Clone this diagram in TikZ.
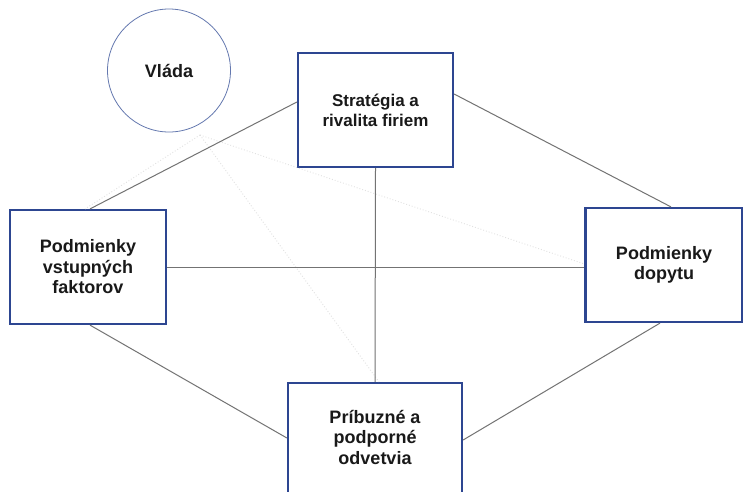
\documentclass[tikz,border=0pt]{standalone}
\usepackage{fontspec}
\setmainfont{Liberation Sans}
\definecolor{boxblue}{RGB}{45,70,145}
\definecolor{circblue}{RGB}{100,120,175}
\definecolor{linegrey}{RGB}{115,115,115}
\definecolor{faint}{RGB}{225,225,225}
\begin{document}
\begin{tikzpicture}[x=1pt,y=-1pt,
  box/.style={draw=boxblue, line width=2.2pt, fill=white, inner sep=0pt},
  txt/.style={font=\fontsize{18}{20.5}\selectfont\bfseries, align=center, text=black!90},
  txtsmall/.style={font=\fontsize{17}{20}\selectfont\bfseries, align=center, text=black!90},
  conn/.style={draw=linegrey, line width=1pt},
  faintline/.style={draw=faint, line width=0.9pt, dotted}]
\useasboundingbox (0,0) rectangle (743,491);
\clip (0,0) rectangle (743,491);
\fill[white] (0,0) rectangle (743,491);
\coordinate (G) at (200,135);
% nodes
\node[box, minimum width=155pt, minimum height=114pt, txtsmall] (T) at (375.5,110) {Stratégia a\\rivalita firiem};
\node[box, minimum width=156pt, minimum height=114pt, txt] (L) at (88,267) {Podmienky\\vstupných\\faktorov};
\node[box, minimum width=157pt, minimum height=114pt, txt] (R) at (664,265) {Podmienky\\dopytu};
\node[box, minimum width=174pt, minimum height=126pt] (B) at (375,446) {};
\node[txt] (Btxt) at (375,437) {Príbuzné a\\podporné\\odvetvia};
\node[draw=circblue, line width=0.8pt, circle, minimum size=123pt, inner sep=0pt, txt] (V) at (169,70.5) {Vláda};
% faint dotted lines
\draw[faintline] (G) -- ([yshift=1pt]R.west);
\draw[faintline] (G) -- ([xshift=4pt]B.north);
\draw[faintline] (G) -- ([xshift=-3pt]L.north);
% connectors
\draw[conn] ([yshift=8pt]T.west) -- ([xshift=2pt]L.north);
\draw[conn] ([yshift=16pt]T.east) -- ([xshift=7pt]R.north);
\draw[conn] (T.south) -- (B.north);
\draw[conn] (L.east) -- (L.east -| R.west);
\draw[conn] ([xshift=2pt]L.south) -- ([yshift=8pt]B.west);
\draw[conn] ([xshift=-4pt]R.south) -- ([yshift=6pt]B.east);
\end{tikzpicture}
\end{document}
